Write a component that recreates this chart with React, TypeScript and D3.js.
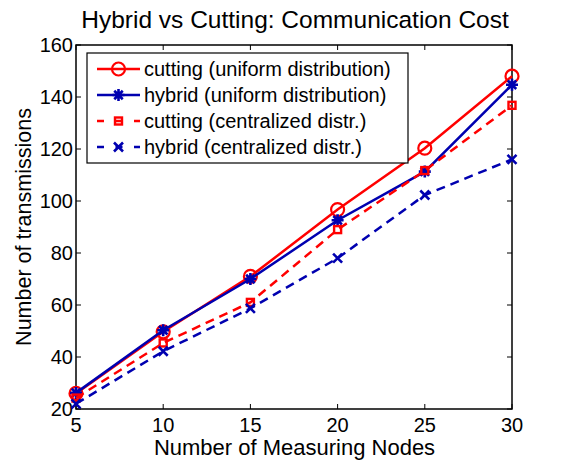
import { useEffect, useRef } from "react";
import { select, scaleLinear, line } from "d3";

const nodes = [5, 10, 15, 20, 25, 30];
const cuttingUniform = [26, 49.7, 71, 96.7, 120.3, 148];
const hybridUniform = [26.2, 50.3, 70, 92.6, 111.3, 144.7];
const cuttingCentral = [24.2, 45.4, 61, 89, 111.7, 136.8];
const hybridCentral = [22, 42.2, 58.7, 78, 102.3, 116];
const xTicks = [5, 10, 15, 20, 25, 30];
const yTicks = [20, 40, 60, 80, 100, 120, 140, 160];
const seriesNames = [
  "cutting (uniform distribution)",
  "hybrid (uniform distribution)",
  "cutting (centralized distr.)",
  "hybrid (centralized distr.)",
];

const RED = "#ff0000";
const BLUE = "#0000b0";

const App = () => {
  const ref = useRef<SVGSVGElement>(null);

  useEffect(() => {
    if (!ref.current) return;
    const svg = select(ref.current);
    svg.selectAll("*").remove();

    const left = 76, right = 512, top = 45, bottom = 409;
    const x = scaleLinear().domain([5, 30]).range([left, right]);
    const y = scaleLinear().domain([20, 160]).range([bottom, top]);
    const font = "Liberation Sans, Arial, sans-serif";

    // plot box
    svg.append("rect")
      .attr("x", left).attr("y", top)
      .attr("width", right - left).attr("height", bottom - top)
      .attr("fill", "white").attr("stroke", "black").attr("stroke-width", 1.5);

    const tl = 5;
    xTicks.forEach((t) => {
      svg.append("line").attr("x1", x(t)).attr("x2", x(t)).attr("y1", bottom).attr("y2", bottom - tl).attr("stroke", "black");
      svg.append("line").attr("x1", x(t)).attr("x2", x(t)).attr("y1", top).attr("y2", top + tl).attr("stroke", "black");
      svg.append("text").attr("x", x(t)).attr("y", bottom + 23)
        .attr("text-anchor", "middle").attr("font-family", font).attr("font-size", 20).text(t);
    });
    yTicks.forEach((t) => {
      svg.append("line").attr("x1", left).attr("x2", left + tl).attr("y1", y(t)).attr("y2", y(t)).attr("stroke", "black");
      svg.append("line").attr("x1", right).attr("x2", right - tl).attr("y1", y(t)).attr("y2", y(t)).attr("stroke", "black");
      svg.append("text").attr("x", left - 3).attr("y", y(t) + 7)
        .attr("text-anchor", "end").attr("font-family", font).attr("font-size", 20).text(t);
    });

    svg.append("text").attr("x", 295).attr("y", 28).attr("text-anchor", "middle")
      .attr("font-family", font).attr("font-size", 24.5).text("Hybrid vs Cutting: Communication Cost");
    svg.append("text").attr("x", 294.5).attr("y", 455).attr("text-anchor", "middle")
      .attr("font-family", font).attr("font-size", 22).text("Number of Measuring Nodes");
    svg.append("text").attr("transform", `translate(31,${(top + bottom) / 2}) rotate(-90)`)
      .attr("text-anchor", "middle").attr("font-family", font).attr("font-size", 21.5).text("Number of transmissions");

    const series = [
      { vals: cuttingUniform, color: RED, dash: null, marker: "o" },
      { vals: hybridUniform, color: BLUE, dash: null, marker: "*" },
      { vals: cuttingCentral, color: RED, dash: "9,6", marker: "s" },
      { vals: hybridCentral, color: BLUE, dash: "9,6", marker: "x" },
    ];

    const drawMarker = (g: any, cx: number, cy: number, m: string, color: string) => {
      if (m === "o") {
        g.append("circle").attr("cx", cx).attr("cy", cy).attr("r", 6.5)
          .attr("fill", "none").attr("stroke", color).attr("stroke-width", 2.2);
      } else if (m === "s") {
        g.append("rect").attr("x", cx - 3.5).attr("y", cy - 3.5).attr("width", 7).attr("height", 7)
          .attr("fill", "none").attr("stroke", color).attr("stroke-width", 2.4);
      } else if (m === "x") {
        const s = 4.5;
        g.append("path").attr("d", `M${cx - s},${cy - s}L${cx + s},${cy + s}M${cx - s},${cy + s}L${cx + s},${cy - s}`)
          .attr("stroke", color).attr("stroke-width", 2.6);
      } else {
        const s = 6;
        let d = "";
        for (let i = 0; i < 4; i++) {
          const a = (Math.PI / 4) * i;
          d += `M${cx - s * Math.cos(a)},${cy - s * Math.sin(a)}L${cx + s * Math.cos(a)},${cy + s * Math.sin(a)}`;
        }
        g.append("path").attr("d", d).attr("stroke", color).attr("stroke-width", 2.6);
      }
    };

    const l = line<number>().x((_, i) => x(nodes[i])).y((d) => y(d));
    const plot = svg.append("g");
    series.forEach((s) => {
      const p = plot.append("path").datum(s.vals).attr("d", l)
        .attr("fill", "none").attr("stroke", s.color).attr("stroke-width", 2.5);
      if (s.dash) p.attr("stroke-dasharray", s.dash);
      s.vals.forEach((v, i) => drawMarker(plot, x(nodes[i]), y(v), s.marker, s.color));
    });

    // legend
    const lg = svg.append("g");
    lg.append("rect").attr("x", 87).attr("y", 53).attr("width", 321).attr("height", 110)
      .attr("fill", "white").attr("stroke", "black").attr("stroke-width", 1.2);
    series.forEach((s, i) => {
      const cy = 69 + i * 26;
      const ln = lg.append("line").attr("x1", 97).attr("x2", 140).attr("y1", cy).attr("y2", cy)
        .attr("stroke", s.color).attr("stroke-width", 2.5);
      if (s.dash) ln.attr("stroke-dasharray", "7,11.5");
      drawMarker(lg, 118.5, cy, s.marker, s.color);
      lg.append("text").attr("x", 144).attr("y", cy + 7).attr("font-family", font)
        .attr("font-size", 20).text(seriesNames[i]);
    });
  }, []);

  return <svg ref={ref} width={561} height={464} style={{ position: "absolute", left: 0, top: 0 }} />;
};

export default App;
